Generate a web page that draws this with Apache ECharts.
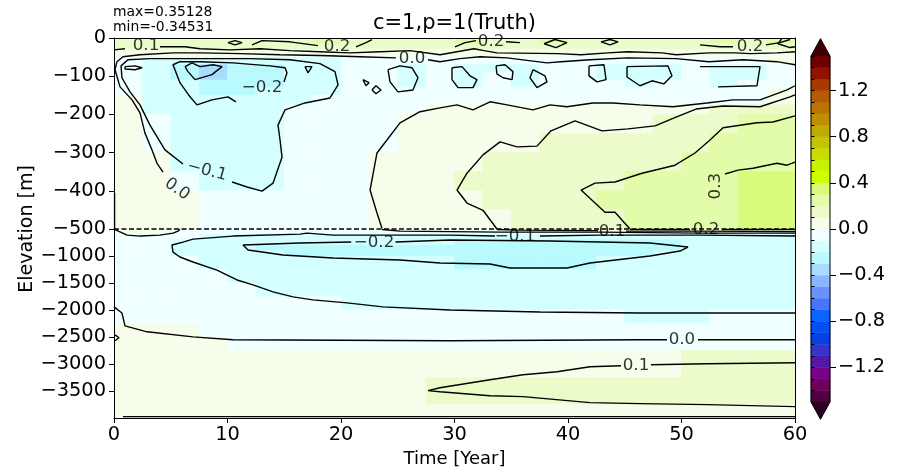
<!DOCTYPE html>
<html><head><meta charset="utf-8">
<script src="https://cdn.jsdelivr.net/npm/echarts@6/dist/echarts.min.js"></script>
<style>html,body{margin:0;padding:0;background:#fff}#c{width:901px;height:472px}</style>
</head><body><div id="c"></div>
<script>
// ---------------- DATA ----------------
const titleText = 'c=1,p=1(Truth)';
const maxText = 'max=0.35128';
const minText = 'min=-0.34531';
const xName = 'Time [Year]';
const yName = 'Elevation [m]';

const xTicks = [0, 10, 20, 30, 40, 50, 60];
const upperYTicks = [0, -100, -200, -300, -400, -500];
const lowerYTicks = [-1000, -1500, -2000, -2500, -3000, -3500];
const cbarTicks = [-1.2, -0.8, -0.4, 0, 0.4, 0.8, 1.2];
const colorLevels = [-1.5,-1.4,-1.3,-1.2,-1.1,-1.0,-0.9,-0.8,-0.7,-0.6,-0.5,-0.4,-0.3,-0.2,-0.1,0,0.1,0.2,0.3,0.4,0.5,0.6,0.7,0.8,0.9,1.0,1.1,1.2,1.3,1.4,1.5];

const timeEdges = [0,2.5,5,7.5,10,12.5,15,17.5,20,22.5,25,27.5,30,32.5,35,37.5,40,42.5,45,47.5,50,52.5,55,57.5,60];
const upperDepthEdges = [0,-15,-30,-50,-70,-90,-110,-130,-150,-175,-200,-250,-300,-350,-400,-450,-500];
const lowerDepthEdges = [-500,-600,-700,-800,-900,-1000,-1250,-1500,-1750,-2000,-2250,-2500,-2750,-3000,-3250,-3500,-3750,-4000];

const upperValues = [
[.15,.15,.15,.15,.15,.15,.15,.25,.15,.15,.15,.15,.25,.15,.15,.25,.15,.15,.15,.15,.15,.25,.15,.25],
[.15,.15,.15,.15,.15,.15,.15,.15,.15,.15,.15,.15,.15,.15,.15,.15,.15,.15,.15,.15,.15,.15,.15,.15],
[.05,.05,.05,.05,.05,.05,.05,.05,.05,.05,.05,.05,.05,.05,.05,.05,.05,.05,.05,.05,.05,.05,.05,.05],
[-.05,-.15,-.15,-.15,-.15,-.15,-.15,-.15,-.05,-.05,-.05,-.05,-.05,-.05,-.05,-.05,-.05,-.05,-.05,-.05,-.05,-.05,-.05,.05],
[-.05,-.15,-.25,-.35,-.25,-.25,-.15,-.15,-.05,-.05,-.15,-.05,-.15,-.15,-.15,-.05,-.05,-.15,-.15,-.15,-.05,-.15,-.15,-.05],
[-.05,-.15,-.25,-.35,-.25,-.25,-.15,-.15,-.05,-.05,-.15,-.05,-.15,-.05,-.15,-.05,-.05,-.15,-.15,-.15,-.05,-.15,-.15,-.05],
[-.05,-.15,-.15,-.25,-.25,-.25,-.15,-.15,-.05,-.05,-.15,-.05,-.15,-.05,-.15,-.05,-.05,-.05,-.15,-.05,-.05,-.15,-.05,-.05],
[-.05,-.15,-.15,-.25,-.25,-.15,-.15,-.15,-.05,-.05,-.05,-.05,-.05,-.05,-.05,-.05,-.05,-.05,-.05,-.05,-.05,-.05,-.05,.05],
[.05,-.15,-.15,-.15,-.15,-.15,-.15,-.05,-.05,-.05,-.05,-.05,-.05,-.05,-.05,-.05,-.05,-.05,-.05,-.05,-.05,-.05,-.05,.05],
[.05,-.15,-.15,-.15,-.15,-.15,-.05,-.05,-.05,-.05,-.05,.05,.05,.05,.05,.05,.05,.05,.05,.05,.05,.15,.15,.15],
[.05,-.05,-.15,-.15,-.15,-.15,-.05,-.05,-.05,-.05,.05,.05,.05,.05,.05,.05,.05,.05,.05,.15,.15,.15,.25,.25],
[.05,-.05,-.15,-.15,-.15,-.15,-.05,-.05,-.05,-.05,.05,.05,.05,.05,.05,.15,.15,.15,.15,.15,.15,.25,.25,.25],
[.05,.05,-.15,-.15,-.15,-.15,-.05,-.05,-.05,.05,.05,.05,.05,.15,.15,.15,.15,.15,.15,.15,.25,.25,.25,.25],
[.05,.05,-.05,-.15,-.15,-.15,-.05,-.05,-.05,.05,.05,.05,.15,.15,.15,.15,.15,.15,.25,.25,.25,.25,.35,.35],
[.05,.05,.05,-.05,-.05,-.05,-.05,-.05,-.05,.05,.05,.05,.05,.15,.15,.15,.15,.25,.25,.25,.25,.25,.35,.35],
[.05,.05,.05,-.05,-.05,-.05,-.05,-.05,-.05,.05,.05,.05,.05,.05,.15,.15,.15,.15,.25,.25,.25,.25,.35,.35]
];

const lowerValues = [
[.05,.05,-.05,-.05,-.05,-.05,-.05,-.05,-.05,-.05,-.05,-.05,-.05,-.05,.05,.05,.05,.05,.05,.05,.05,.05,.05,.05],
[-.05,-.05,-.05,-.15,-.15,-.15,-.15,-.15,-.15,-.15,-.15,-.15,-.15,-.15,-.15,-.15,-.15,-.15,-.15,-.15,-.15,-.15,-.15,-.15],
[-.05,-.05,-.15,-.15,-.15,-.15,-.15,-.15,-.15,-.15,-.15,-.15,-.25,-.25,-.25,-.25,-.25,-.25,-.25,-.25,-.15,-.15,-.15,-.15],
[-.05,-.05,-.15,-.15,-.15,-.25,-.25,-.25,-.25,-.25,-.25,-.25,-.25,-.25,-.25,-.25,-.25,-.25,-.25,-.25,-.15,-.15,-.15,-.15],
[-.05,-.05,-.15,-.15,-.15,-.15,-.25,-.25,-.25,-.25,-.25,-.25,-.25,-.25,-.25,-.25,-.25,-.25,-.25,-.15,-.15,-.15,-.15,-.15],
[-.05,-.05,-.05,-.15,-.15,-.15,-.15,-.15,-.15,-.15,-.15,-.15,-.25,-.25,-.25,-.25,-.25,-.15,-.15,-.15,-.15,-.15,-.15,-.15],
[-.05,-.05,-.05,-.05,-.15,-.15,-.15,-.15,-.15,-.15,-.15,-.15,-.15,-.15,-.15,-.15,-.15,-.15,-.15,-.15,-.15,-.15,-.15,-.15],
[-.05,-.05,-.05,-.05,-.05,-.15,-.15,-.15,-.15,-.15,-.15,-.15,-.15,-.15,-.15,-.15,-.15,-.15,-.15,-.15,-.15,-.15,-.15,-.15],
[-.05,-.05,-.05,-.05,-.05,-.05,-.05,-.05,-.15,-.15,-.15,-.15,-.15,-.15,-.15,-.15,-.15,-.15,-.15,-.15,-.15,-.15,-.15,-.15],
[-.05,-.05,-.05,-.05,-.05,-.05,-.05,-.05,-.05,-.05,-.05,-.05,-.05,-.05,-.05,-.05,-.05,-.05,-.15,-.15,-.15,-.05,-.05,-.05],
[.05,.05,.05,-.05,-.05,-.05,-.05,-.05,-.05,-.05,-.05,-.05,-.05,-.05,-.05,-.05,-.05,-.05,-.05,-.05,-.05,-.05,-.05,-.05],
[.05,.05,.05,.05,-.05,-.05,-.05,-.05,-.05,-.05,-.05,-.05,-.05,-.05,-.05,-.05,-.05,-.05,-.05,-.05,-.05,-.05,-.05,-.05],
[.05,.05,.05,.05,.05,.05,.05,.05,.05,.05,.05,.05,.05,.05,.05,.05,.05,.05,.05,.05,.15,.15,.15,.15],
[.05,.05,.05,.05,.05,.05,.05,.05,.05,.05,.05,.05,.05,.05,.05,.05,.05,.05,.05,.05,.15,.15,.15,.15],
[.05,.05,.05,.05,.05,.05,.05,.05,.05,.05,.05,.15,.15,.15,.15,.15,.15,.15,.15,.15,.15,.15,.15,.15],
[.05,.05,.05,.05,.05,.05,.05,.05,.05,.05,.05,.15,.15,.15,.15,.15,.15,.15,.15,.15,.15,.15,.15,.15],
[.05,.05,.05,.05,.05,.05,.05,.05,.05,.05,.05,.05,.05,.05,.05,.05,.05,.05,.05,.05,.05,.05,.05,.05]
];

// contour lines, upper panel (time [year], elevation [m])
const cU_p01a = [[0,-31],[0.97,-28]];
const cU_p01b = [[4.05,-23],[6.26,-23],[7.58,-28],[10.22,-31],[12.86,-28],[15.51,-33],[18.15,-36],[20.79,-39],[23.44,-36],[26.08,-33],[28.72,-44],[30.22,-36],[31.72,-28],[32.6,-33],[33.74,-39],[39.12,-41],[41.15,-44],[43.52,-39],[45.29,-36],[48.28,-39],[49.52,-44],[52.42,-39],[54.8,-39],[56.04,-41],[58.41,-39],[60,-36]];
const cU_z0a = [[60,-70],[58.41,-62],[55.42,-57],[52.42,-62],[49.52,-54],[45.29,-52],[41.94,-57],[39.38,-62],[38.15,-65],[34.63,-52],[32.25,-49],[30.48,-54],[28.72,-62],[27.67,-57]];
const cU_z0b = [[24.85,-52],[21.67,-49],[18.15,-46],[14.63,-44],[11.1,-41],[7.58,-39],[5.2,-39],[2.29,-44],[0.79,-49],[0.26,-62],[0.09,-83],[0.53,-128],[1.59,-162],[2.29,-196],[2.73,-249],[3.35,-293],[3.79,-328],[4.32,-351]];
const cU_z0edge = [[0.05,-406],[0.05,-500]];
const cU_m01 = [[10.4,-377],[11.72,-390],[13.04,-401],[14.01,-380],[14.8,-312],[14.63,-267],[14.45,-228],[15.07,-188],[16.83,-170],[19.03,-157],[19.74,-123],[19.47,-88],[18.15,-67],[15.51,-57],[11.98,-54],[7.58,-54],[3.17,-54],[1.23,-57],[0.62,-73],[0.7,-104],[1.41,-141],[2.29,-175],[3.17,-228],[4.49,-293],[6.08,-330]];
const cU_m02 = [[14.98,-115],[15.24,-91],[15.07,-78],[13.74,-73],[10.48,-65],[7.58,-62],[5.81,-62],[5.2,-70],[5.2,-75],[5.81,-117],[6.7,-154],[7.31,-175],[8.63,-162],[10.04,-154],[10.75,-167]];
const cU_m03 = [[6.26,-75],[6.87,-65],[7.58,-75],[8.72,-70],[9.52,-75],[8.63,-96],[7.14,-109],[6.52,-88],[6.26,-75]];
const cU_m02s = [[0.97,-75],[1.85,-73],[2.47,-78],[1.85,-83],[0.97,-81],[0.97,-75]];
const cU_m02t = [[16.83,-75],[17.44,-75],[17.09,-91],[16.83,-75]];
const cU_loopA = [[24.14,-83],[25.2,-73],[26.26,-78],[26.78,-104],[26.34,-136],[25.02,-141],[24.32,-115],[24.14,-83]];
const cU_loopB = [[21.94,-109],[22.47,-117],[22.2,-125],[21.94,-109]];
const cU_loopC = [[22.73,-136],[23.08,-125],[23.52,-136],[23.08,-146],[22.73,-136]];
const cU_loopD = [[29.78,-78],[30.66,-75],[31.37,-99],[31.98,-109],[31.63,-130],[30.31,-130],[29.78,-109],[29.78,-78]];
const cU_loopE = [[33.66,-73],[34.45,-70],[35.15,-88],[35.07,-109],[34.27,-104],[33.74,-94],[33.66,-73]];
const cU_loopF = [[36.92,-83],[37.97,-99],[38.15,-115],[37.27,-130],[36.65,-104],[36.92,-83]];
const cU_loopG = [[41.85,-73],[43.17,-70],[43.35,-109],[42.56,-115],[41.85,-99],[41.85,-73]];
const cU_loopH = [[45.2,-75],[48.81,-73],[49.16,-99],[48.46,-120],[47.4,-112],[46.34,-125],[45.2,-102],[45.2,-75]];
const cU_loopI = [[51.63,-75],[56.92,-75],[56.65,-125],[53.22,-128]];
const cU_w0 = [[23.61,-498],[23.17,-458],[22.56,-398],[23.17,-301],[24.05,-267],[25.2,-222],[26.96,-193],[28.72,-183],[30.22,-175],[31.63,-188],[33.13,-167],[34.63,-175],[36.92,-188],[38.41,-175],[39.91,-180],[42.2,-170],[43.96,-170],[46.34,-175],[49.25,-180],[52.25,-170],[54.54,-162],[56.92,-162],[59.3,-136],[60,-125]];
const cU_p01 = [[33.74,-500],[32.51,-451],[31.1,-432],[30.22,-398],[31.1,-354],[32.51,-306],[34.01,-272],[35.51,-285],[37.27,-283],[38.5,-243],[40.62,-217],[43.0,-243],[45.29,-238],[47.67,-230],[49.52,-207],[51.28,-186],[53.66,-178],[56.92,-180],[59.56,-154],[60,-149]];
const cU_p02 = [[45.46,-500],[44.14,-456],[43.26,-456],[41.15,-398],[42.38,-380],[44.14,-377],[46.52,-354],[49.43,-333],[51.19,-301],[52.51,-267],[53.66,-235],[56.65,-222],[58.06,-220],[60,-204]];
const cU_p03 = [[60,-325],[59.3,-333],[58.41,-328],[56.3,-341],[54.98,-346],[53.83,-356]];
const cU_s02a = [[10.04,-12],[10.66,-7],[11.28,-12],[10.66,-18],[10.04,-12]];
const cU_s02b1 = [[12.16,-18],[13.04,-7],[15.51,-10],[17.97,-20]];
const cU_s02b2 = [[21.32,-23],[22.2,-12],[22.73,-4]];
const cU_s02c1 = [[30.04,-23],[30.93,-12],[31.9,-7]];
const cU_s02c2 = [[34.54,-10],[35.77,-12]];
const cU_s02d = [[37.89,-15],[38.85,-4],[39.91,-12],[38.94,-25],[37.89,-15]];
const cU_s02e = [[42.91,-10],[43.7,-4],[44.41,-10],[43.7,-18],[42.91,-10]];
const cU_s02f1 = [[51.63,-18],[53.39,-23],[54.54,-23]];
const cU_s02f2 = [[57.44,-18],[58.68,-12],[59.56,-4]];
const cU_s02g = [[58.85,-1],[58.5,-15],[59.56,-25],[60,-23]];
const sepLine = [[0,-500],[60,-500]];

// contour lines, lower panel
const cL_z0left = [[0,-502],[1.15,-613],[2.29,-631],[4.05,-613],[5.2,-576],[5.64,-539],[5.81,-510]];
const cL_m01a = [[60,-631],[51.63,-613],[42.82,-613],[37.53,-631]];
const cL_m01b = [[33.57,-631],[29.6,-613],[19.3,-613],[17.0,-576],[16.39,-594],[10.48,-631],[6.96,-687],[6.08,-742],[5.11,-797],[5.2,-927],[5.81,-1019],[6.96,-1111],[9.07,-1260],[10.84,-1444],[12.25,-1536],[14.01,-1665],[15.77,-1758],[17.53,-1813],[20.53,-1869],[23.7,-1942],[29.6,-2000],[37.53,-2037],[46.34,-2055],[60,-2055]];
const cL_m02 = [[24.8,-742],[29.6,-705],[38.41,-723],[47.22,-760],[50.57,-834],[49.87,-908],[47.22,-1001],[43.44,-1093],[41.94,-1130],[39.91,-1222],[34.89,-1222],[33.13,-1148],[28.72,-1130],[25.2,-1074],[19.3,-1037],[14.89,-982],[11.81,-889],[11.37,-797],[16.39,-760],[20.9,-742]];
const cL_z0right = [[23.61,-510],[25.2,-539],[34.01,-557],[42.82,-557],[51.63,-576],[60,-576]];
const cL_p01a = [[33.74,-510],[35.77,-520],[42.64,-530]];
const cL_p01b = [[45.11,-539],[51.63,-539],[60,-548]];
const cL_p02a = [[45.46,-507],[50.75,-510]];
const cL_p02b = [[53.57,-510],[60,-510]];
const cL_z0deepA = [[0,-1942],[0.7,-2055],[0.97,-2293],[2.91,-2404],[6.96,-2497],[10.48,-2552],[29.6,-2570],[46.34,-2552],[48.72,-2552]];
const cL_z0deepB = [[51.45,-2552],[60,-2552]];
const cL_z0tick = [[0.09,-2460],[0.44,-2515],[0.09,-2570]];
const cL_p01deepA = [[60,-2977],[52.25,-2995],[47.31,-3014]];
const cL_p01deepB = [[44.67,-3032],[41.94,-3051],[39.03,-3143],[36.04,-3199],[33.13,-3291],[28.72,-3439],[27.67,-3494],[28.72,-3513],[33.13,-3587],[36.04,-3605],[41.94,-3716],[46.34,-3734],[52.25,-3753],[60,-3790]];
const cL_z0bottom = [[0.79,-3975],[60,-3975]];

// contour labels [time, elevation, text, rotation]
const upperLabels = [
  [2.82,-20,'0.1',0],[26.26,-54,'0.0',0],[5.55,-396,'0.0',-35],[8.19,-348,'\u22120.1',-15],
  [13.04,-131,'\u22120.2',0],[19.65,-23,'0.2',0],[33.22,-10,'0.2',0],[56.04,-23,'0.2',0],[53.04,-388,'0.3',90]
];
const lowerLabels = [
  [35.33,-650,'\u22120.1',0],[22.91,-760,'\u22120.2',0],[43.88,-548,'0.1',0],[52.16,-520,'0.2',0],
  [50.04,-2552,'0.0',0],[45.99,-3032,'0.1',0]
];

// ---------------- STYLE ----------------
const FONT = 'DejaVu Sans';
const binColors = ['#4f0040','#6e005e','#7a0088','#5418a6','#3434c6','#0a40e2','#0050f4','#0a64ff','#4674ff','#6a92ff',
  '#8ab6ff','#a8dcff','#b9faff','#d4ffff','#f0ffff','#f6fdea','#ebfcca','#e2fcaa','#d9fb7c','#ccff00',
  '#c8f400','#c8dc00','#c4c400','#c0aa00','#bc8e00','#b87400','#b45a00','#a83a00','#921200','#6c0000'];
const underColor = '#2c0022', overColor = '#3c0000';
const MINUS = '\u2212';
const fmtInt = v => (v < 0 ? MINUS + String(-v) : String(v));
const fmtCb = v => { const s = Math.abs(v).toFixed(1); return v < -1e-9 ? MINUS + s : s; };

function colorOf(v) {
  for (let i = 0; i < colorLevels.length - 1; i++) {
    if (v >= colorLevels[i] && v < colorLevels[i + 1]) return binColors[i];
  }
  return v < colorLevels[0] ? underColor : overColor;
}
function buildCells(tE, dE, rows) {
  const out = [];
  for (let r = 0; r < rows.length; r++)
    for (let c = 0; c < rows[r].length; c++)
      out.push([tE[c], tE[c + 1], dE[r], dE[r + 1], rows[r][c]]);
  return out;
}
function cellRender(params, api) {
  const a = api.coord([api.value(0), api.value(2)]);
  const b = api.coord([api.value(1), api.value(3)]);
  const col = colorOf(api.value(4));
  return { type: 'rect', shape: { x: Math.min(a[0], b[0]), y: Math.min(a[1], b[1]), width: Math.abs(b[0] - a[0]), height: Math.abs(b[1] - a[1]) },
    style: { fill: col, stroke: col, lineWidth: 0.6 } };
}
function cellSeries(cells, xi, yi) {
  return { type: 'custom', xAxisIndex: xi, yAxisIndex: yi, data: cells, dimensions: ['t0','t1','d0','d1','v'],
    encode: { x: ['t0','t1'], y: ['d0','d1'] }, renderItem: cellRender, silent: true, z: 1, clip: true, animation: false };
}
function lineSeries(pts, xi, yi, dashed) {
  return { type: 'line', xAxisIndex: xi, yAxisIndex: yi, data: pts, symbol: 'none', showSymbol: false, silent: true,
    animation: false, clip: !dashed, z: 5,
    lineStyle: { color: '#000', width: dashed ? 1.3 : 1.4, type: dashed ? [5, 2.5] : 'solid' } };
}
function labelSeries(items, xi, yi) {
  return { type: 'scatter', xAxisIndex: xi, yAxisIndex: yi, symbol: 'circle', symbolSize: 1, silent: true, animation: false, clip: false, z: 6,
    itemStyle: { color: 'rgba(0,0,0,0)' },
    data: items.map(it => ({ value: [it[0], it[1]], name: it[2], label: { rotate: it[3] } })),
    label: { show: true, position: 'inside', formatter: p => p.name, color: '#000', fontSize: 16.7, fontFamily: FONT } };
}

const upperLines = [cU_p01a,cU_p01b,cU_z0a,cU_z0b,cU_z0edge,cU_m01,cU_m02,cU_m03,cU_m02s,cU_m02t,cU_loopA,cU_loopB,cU_loopC,
  cU_loopD,cU_loopE,cU_loopF,cU_loopG,cU_loopH,cU_loopI,cU_w0,cU_p01,cU_p02,cU_p03,cU_s02a,cU_s02b1,cU_s02b2,cU_s02c1,cU_s02c2,
  cU_s02d,cU_s02e,cU_s02f1,cU_s02f2,cU_s02g];
const lowerLines = [cL_z0left,cL_m01a,cL_m01b,cL_m02,cL_z0right,cL_p01a,cL_p01b,cL_p02a,cL_p02b,cL_z0deepA,cL_z0deepB,cL_z0tick,
  cL_p01deepA,cL_p01deepB,cL_z0bottom];

const cbBins = [];
for (let i = 0; i < colorLevels.length - 1; i++) cbBins.push([colorLevels[i], colorLevels[i + 1], i]);
const EXT = 0.05 * (colorLevels[colorLevels.length - 1] - colorLevels[0]);
const cbLo = colorLevels[0], cbHi = colorLevels[colorLevels.length - 1];

const axisLineStyle = { show: true, onZero: false, lineStyle: { color: '#000', width: 1 } };
const tickStyle = { color: '#000', width: 1 };
const labelFont = { color: '#000', fontSize: 19.4, fontFamily: FONT };

const series = [
  cellSeries(buildCells(timeEdges, upperDepthEdges, upperValues), 0, 0),
  cellSeries(buildCells(timeEdges, lowerDepthEdges, lowerValues), 1, 2)
];
upperLines.forEach(p => series.push(lineSeries(p, 0, 0, false)));
lowerLines.forEach(p => series.push(lineSeries(p, 1, 2, false)));
series.push(lineSeries(sepLine, 0, 0, true));
series.push(labelSeries(upperLabels, 0, 0));
series.push(labelSeries(lowerLabels, 1, 2));
// colorbar
series.push({ type: 'custom', xAxisIndex: 2, yAxisIndex: 4, data: cbBins, encode: { y: [0, 1] }, silent: true, clip: false, z: 2,
  renderItem: (params, api) => {
    const a = api.coord([0, api.value(0)]), b = api.coord([1, api.value(1)]);
    const col = binColors[api.value(2)];
    return { type: 'rect', shape: { x: a[0], y: b[1], width: b[0] - a[0], height: a[1] - b[1] }, style: { fill: col, stroke: col, lineWidth: 0.5 } };
  } });
series.push({ type: 'custom', xAxisIndex: 2, yAxisIndex: 4, data: [[cbHi, 1], [cbLo, -1]], silent: true, clip: false, z: 2,
  renderItem: (params, api) => {
    const e = api.value(0), dir = api.value(1);
    const p1 = api.coord([0, e]), p2 = api.coord([1, e]), p3 = api.coord([0.5, e + dir * EXT]);
    return { type: 'polygon', shape: { points: [p1, p2, p3] }, style: { fill: dir > 0 ? overColor : underColor } };
  } });
series.push({ type: 'custom', xAxisIndex: 2, yAxisIndex: 4, data: [[0]], silent: true, clip: false, z: 3,
  renderItem: (params, api) => {
    const pts = [api.coord([0, cbLo]), api.coord([0.5, cbLo - EXT]), api.coord([1, cbLo]), api.coord([1, cbHi]),
      api.coord([0.5, cbHi + EXT]), api.coord([0, cbHi])];
    return { type: 'polygon', shape: { points: pts }, style: { fill: 'none', stroke: '#000', lineWidth: 1 } };
  } });

const option = {
  animation: false,
  backgroundColor: '#ffffff',
  grid: [
    { left: 114, top: 38, width: 681, height: 191, show: false },
    { left: 114, top: 229, width: 681, height: 189, show: false },
    { left: 811, top: 56, width: 19, height: 346, show: false }
  ],
  xAxis: [
    { type: 'value', gridIndex: 0, min: 0, max: 60, position: 'top', z: 10, axisLine: axisLineStyle, axisTick: { show: false }, axisLabel: { show: false }, splitLine: { show: false } },
    { type: 'value', gridIndex: 1, min: 0, max: 60, interval: 10, position: 'bottom', z: 10, axisLine: axisLineStyle,
      axisTick: { show: true, length: 5, lineStyle: tickStyle, customValues: xTicks }, axisLabel: Object.assign({ margin: 7, formatter: fmtInt, customValues: xTicks }, labelFont), splitLine: { show: false } },
    { type: 'value', gridIndex: 2, min: 0, max: 1, show: false }
  ],
  yAxis: [
    { type: 'value', gridIndex: 0, min: -500, max: 0, interval: 100, position: 'left', z: 10, axisLine: axisLineStyle,
      axisTick: { show: true, length: 5, lineStyle: tickStyle, customValues: upperYTicks }, axisLabel: Object.assign({ margin: 8, formatter: fmtInt, customValues: upperYTicks }, labelFont), splitLine: { show: false } },
    { type: 'value', gridIndex: 0, min: -500, max: 0, position: 'right', z: 10, axisLine: axisLineStyle, axisTick: { show: false }, axisLabel: { show: false }, splitLine: { show: false } },
    { type: 'value', gridIndex: 1, min: -4000, max: -500, interval: 500, position: 'left', z: 10, axisLine: axisLineStyle,
      axisTick: { show: true, length: 5, lineStyle: tickStyle, customValues: lowerYTicks },
      axisLabel: Object.assign({ margin: 8, formatter: fmtInt, customValues: lowerYTicks }, labelFont), splitLine: { show: false } },
    { type: 'value', gridIndex: 1, min: -4000, max: -500, position: 'right', z: 10, axisLine: axisLineStyle, axisTick: { show: false }, axisLabel: { show: false }, splitLine: { show: false } },
    { type: 'value', gridIndex: 2, min: -1.5, max: 1.5, interval: 0.1, position: 'right', z: 10, axisLine: { show: false },
      axisTick: { show: true, length: 3.5, lineStyle: tickStyle },
      axisLabel: Object.assign({ margin: 8, formatter: v => (cbarTicks.some(t => Math.abs(t - v) < 1e-6) ? fmtCb(v) : '') }, labelFont), splitLine: { show: false } },
    { type: 'value', gridIndex: 2, min: -1.5, max: 1.5, position: 'right', z: 10, axisLine: { show: false },
      axisTick: { show: true, length: 6, lineStyle: tickStyle, customValues: cbarTicks }, axisLabel: { show: false }, splitLine: { show: false } }
  ],
  graphic: { elements: [
    { type: 'text', x: 454.5, y: 23.5, style: { text: titleText, font: '21px "DejaVu Sans"', fill: '#000', align: 'center', verticalAlign: 'middle' } },
    { type: 'text', x: 113, y: 12.5, style: { text: maxText, font: '13.9px "DejaVu Sans"', fill: '#000', align: 'left', verticalAlign: 'middle' } },
    { type: 'text', x: 113, y: 27.5, style: { text: minText, font: '13.9px "DejaVu Sans"', fill: '#000', align: 'left', verticalAlign: 'middle' } },
    { type: 'text', x: 454.5, y: 459, style: { text: xName, font: '18px "DejaVu Sans"', fill: '#000', align: 'center', verticalAlign: 'middle' } },
    { type: 'text', x: 27, y: 229, rotation: Math.PI / 2, style: { text: yName, font: '19px "DejaVu Sans"', fill: '#000', align: 'center', verticalAlign: 'middle' } }
  ] },
  series: series
};

const chart = echarts.init(document.getElementById('c'), null, { renderer: 'canvas' });
chart.setOption(option);
</script>
</body></html>
